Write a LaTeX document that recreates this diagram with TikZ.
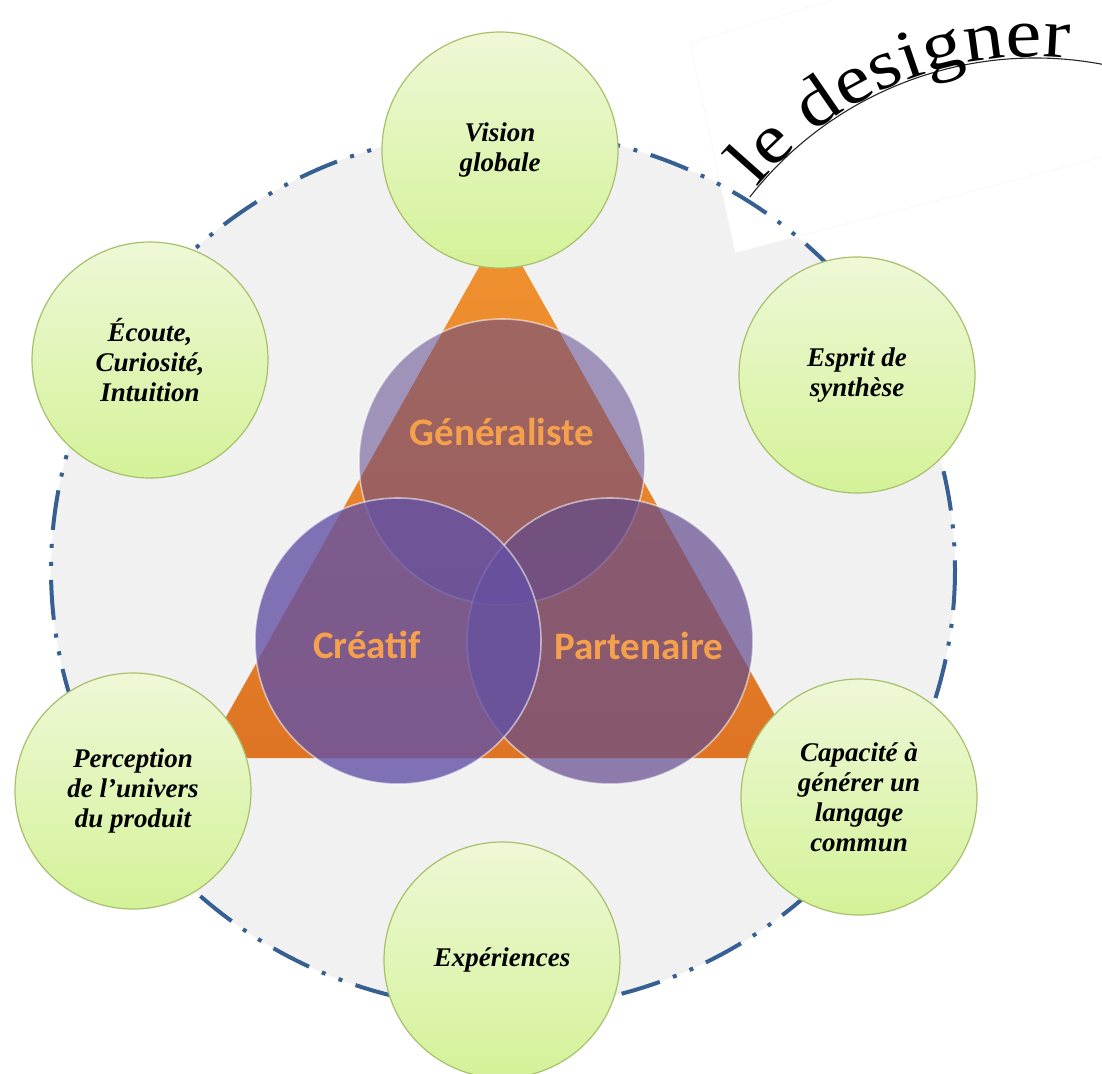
\documentclass[tikz,border=0pt]{standalone}
\usepackage{fontspec}
\setmainfont{Liberation Serif}
\newfontfamily\calfont{Carlito}
\newfontfamily\titlefont[FakeStretch=1.15]{Liberation Serif}
\usetikzlibrary{decorations.text}

\definecolor{backgray}{RGB}{241,241,241}
\definecolor{ringblue}{RGB}{55,96,146}
\definecolor{triatop}{RGB}{240,146,48}
\definecolor{triabot}{RGB}{222,116,36}
\definecolor{genfill}{RGB}{95,70,140}
\definecolor{crefill}{RGB}{100,82,166}
\definecolor{parfill}{RGB}{99,75,142}
\definecolor{roletext}{RGB}{245,160,76}
\definecolor{leaftop}{RGB}{238,248,214}
\definecolor{leafbot}{RGB}{212,242,152}
\definecolor{leafline}{RGB}{168,192,108}

\tikzset{
  quality/.style={circle, draw=leafline, line width=1.2pt,
    top color=leaftop, bottom color=leafbot,
    minimum size=236pt, inner sep=0pt, align=center,
    font=\fontsize{27}{30}\selectfont\bfseries\itshape},
  role/.style={circle, fill=#1, draw=white, draw opacity=0.55,
    line width=1.6pt, minimum size=286pt, inner sep=0pt},
  rolename/.style={text=roletext,
    font=\calfont\bfseries\fontsize{39}{39}\selectfont},
  ring/.style={draw=ringblue, line width=4pt,
    dash pattern=on 40pt off 14pt on 4pt off 14pt on 4pt off 14pt}
}

\begin{document}
\begin{tikzpicture}[x=1pt, y=-1pt]
  \useasboundingbox (0,0) rectangle (1102,1073);

  % backdrop and paper patch
  \fill[backgray] (503,570) ellipse [x radius=452, y radius=439];
  \fill[white, draw=black!5] (690,43) -- (1130,-90) -- (1130,150)
    -- (735,253) -- cycle;
  \path[ring] (503,570) ellipse [x radius=452, y radius=439];

  \shade[top color=triatop, bottom color=triabot]
    (501,228) -- (799,758) -- (203,758) -- cycle;

  \node[role=genfill, fill opacity=0.55] (gen) at (502,462) {};
  \node[role=parfill, fill opacity=0.7] (par) at (610,641) {};
  \node[role=crefill, fill opacity=0.8] (cre) at (398,641) {};

  \node[rolename] (gentext) at (502,432) {Généraliste};
  \node[rolename] (cretext) at (367,645) {Créatif};
  \node[rolename] (partext) at (639,646) {Partenaire};

  \node[quality] (vision) at (500,150) {Vision\\globale};
  \node[quality] (ecoute) at (150,360) {Écoute,\\Curiosité,\\Intuition};
  \node[quality] (esprit) at (857,375) {Esprit de\\synthèse};
  \node[quality] (percep) at (133,791) {Perception\\de l’univers\\du produit};
  \node[quality] (capac) at (859,797) {Capacité à\\générer un\\langage\\commun};
  \node[quality] (exper) at (502,960) {Expériences};

  % curved title
  \coordinate (arcc) at (1035,420);
  \draw[black!85, line width=1.1pt]
    (arcc) ++(218:362) arc[start angle=218, end angle=282, radius=362];
  \path[decorate, decoration={text along path,
      text={|\titlefont\fontsize{70}{70}\selectfont|le designer},
      text align={left indent=12pt}, raise=1pt}]
    (arcc) ++(218:362) arc[start angle=218, end angle=282, radius=362];

\end{tikzpicture}
\end{document}
